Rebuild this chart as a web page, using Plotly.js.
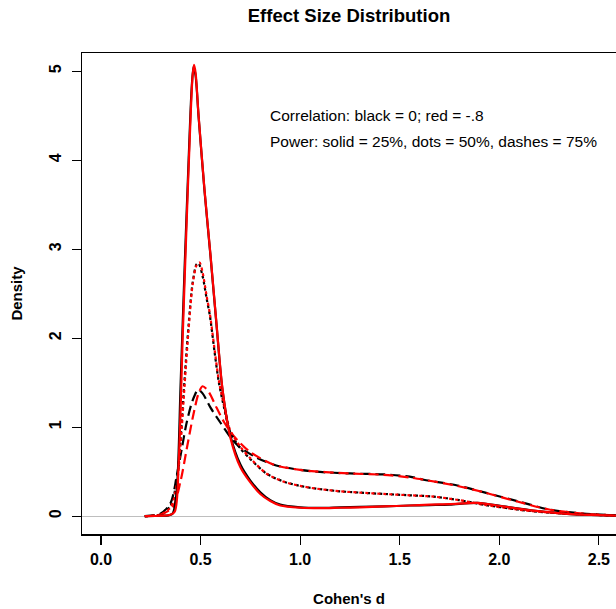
<!DOCTYPE html>
<html>
<head>
<meta charset="utf-8">
<script src="https://cdn.plot.ly/plotly-3.0.1.min.js"></script>
<style>html,body{margin:0;padding:0;overflow:hidden;background:#fff}</style>
</head>
<body>
<div id="chart" style="width:616px;height:609px"></div>
<script>
// Solid = power 25%
const solidBlackX = [0.22,0.30,0.34,0.36,0.38,0.40,0.42,0.44,0.455,0.465,0.475,0.49,0.52,0.55,0.58,0.61,0.65,0.70,0.75,0.80,0.85,0.90,1.00,1.10,1.20,1.30,1.42,1.55,1.65,1.75,1.89,2.02,2.17,2.34,2.46,2.60];
const solidBlackY = [0.00,0.005,0.01,0.03,0.28,1.50,2.80,4.00,4.80,5.05,4.95,4.49,3.65,2.92,2.15,1.42,0.90,0.58,0.40,0.27,0.18,0.13,0.10,0.094,0.10,0.105,0.11,0.12,0.125,0.13,0.15,0.11,0.064,0.027,0.015,0.005];
const solidRedX = [0.22,0.30,0.34,0.37,0.39,0.41,0.43,0.45,0.46,0.467,0.475,0.49,0.52,0.55,0.58,0.61,0.65,0.70,0.75,0.80,0.85,0.90,1.00,1.10,1.20,1.30,1.42,1.55,1.65,1.75,1.89,2.02,2.17,2.34,2.46,2.60];
const solidRedY = [0.00,0.005,0.01,0.05,0.60,2.00,3.30,4.50,4.95,5.07,4.98,4.50,3.66,2.93,2.16,1.43,0.88,0.55,0.38,0.25,0.17,0.12,0.095,0.09,0.095,0.10,0.11,0.12,0.13,0.135,0.15,0.11,0.062,0.026,0.014,0.005];
// Dotted = power 50%
const dotBlackX = [0.22,0.30,0.35,0.38,0.40,0.42,0.44,0.46,0.48,0.49,0.51,0.53,0.547,0.57,0.592,0.62,0.648,0.70,0.75,0.83,0.915,1.00,1.08,1.20,1.30,1.42,1.55,1.67,1.80,1.92,2.09,2.25,2.42,2.60];
const dotBlackY = [0.00,0.02,0.12,0.40,0.88,1.55,2.15,2.62,2.83,2.84,2.70,2.45,2.25,1.85,1.50,1.20,0.95,0.76,0.64,0.48,0.39,0.34,0.31,0.28,0.265,0.25,0.235,0.22,0.18,0.13,0.075,0.04,0.02,0.005];
const dotRedX = [0.22,0.30,0.35,0.38,0.40,0.42,0.44,0.46,0.48,0.495,0.51,0.53,0.547,0.57,0.592,0.62,0.648,0.70,0.75,0.83,0.915,1.00,1.08,1.20,1.30,1.42,1.55,1.67,1.80,1.92,2.09,2.25,2.42,2.60];
const dotRedY = [0.00,0.02,0.10,0.35,0.82,1.48,2.10,2.60,2.82,2.85,2.74,2.48,2.27,1.88,1.52,1.22,0.97,0.78,0.65,0.48,0.39,0.34,0.31,0.28,0.265,0.25,0.235,0.22,0.18,0.13,0.075,0.04,0.02,0.005];
// Dashed = power 75%
const dashBlackX = [0.22,0.30,0.35,0.38,0.405,0.43,0.46,0.488,0.51,0.55,0.60,0.656,0.70,0.78,0.88,1.00,1.08,1.25,1.42,1.55,1.62,1.79,1.92,2.09,2.25,2.42,2.60];
const dashBlackY = [0.00,0.03,0.15,0.45,0.75,1.05,1.30,1.42,1.38,1.22,1.05,0.87,0.77,0.66,0.57,0.52,0.50,0.48,0.47,0.445,0.41,0.345,0.27,0.17,0.075,0.03,0.008];
const dashRedX = [0.22,0.30,0.36,0.40,0.43,0.46,0.49,0.51,0.54,0.58,0.62,0.66,0.70,0.75,0.865,1.00,1.25,1.42,1.55,1.62,1.79,1.92,2.09,2.25,2.42,2.60];
const dashRedY = [0.00,0.02,0.10,0.40,0.75,1.10,1.38,1.46,1.40,1.22,1.05,0.92,0.82,0.72,0.58,0.52,0.48,0.465,0.435,0.41,0.34,0.27,0.165,0.075,0.03,0.008];

const titleText = "Effect Size Distribution";
const xTitle = "Cohen's d";
const yTitle = "Density";
const note1 = "Correlation: black = 0; red = -.8";
const note2 = "Power: solid = 25%, dots = 50%, dashes = 75%";
const xTicks = [0, 0.5, 1, 1.5, 2, 2.5];
const xTickText = ["0.0","0.5","1.0","1.5","2.0","2.5"];
const yTicks = [0,1,2,3,4,5];

function tr(x, y, color, dash, name) {
  return {x: x, y: y, type: 'scatter', mode: 'lines', name: name,
    line: {color: color, width: 2.2, dash: dash, shape: 'spline', smoothing: 0.8},
    hoverinfo: 'skip'};
}

const data = [
  tr(dashBlackX, dashBlackY, '#000000', '10px,5px', 'r=0, 75%'),
  tr(dashRedX, dashRedY, '#ff0000', '10px,5px', 'r=-.8, 75%'),
  tr(dotBlackX, dotBlackY, '#000000', '3px,3px', 'r=0, 50%'),
  tr(dotRedX, dotRedY, '#ff0000', '3px,3px', 'r=-.8, 50%'),
  tr(solidBlackX, solidBlackY, '#000000', 'solid', 'r=0, 25%'),
  tr(solidRedX, solidRedY, '#ff0000', 'solid', 'r=-.8, 25%')
];

const fontFam = 'Liberation Sans, Arial, Helvetica, sans-serif';
const layout = {
  width: 616, height: 609,
  margin: {l: 82, r: 0, t: 53, b: 75},
  paper_bgcolor: '#ffffff', plot_bgcolor: '#ffffff',
  showlegend: false,
  font: {family: fontFam, color: '#000'},
  title: {text: '<b>' + titleText + '</b>', font: {size: 18.5, family: fontFam, color: '#000'},
          x: 0.5, xref: 'paper', xanchor: 'center', y: 0.974, yref: 'container', yanchor: 'middle'},
  xaxis: {
    range: [-0.0954, 2.586], tickvals: xTicks, ticktext: xTickText,
    ticks: 'outside', ticklen: 9, tickwidth: 1.2, tickcolor: '#000',
    showline: true, linecolor: '#000', linewidth: 1.5, mirror: true,
    showgrid: false, zeroline: false,
    tickfont: {size: 16, family: fontFam, color: '#000', weight: 'bold'},
    ticklabelstandoff: 1,
    title: {text: xTitle, font: {size: 15, family: fontFam, color: '#000', weight: 'bold'}, standoff: 27}
  },
  yaxis: {
    range: [-0.2, 5.204], tickvals: yTicks,
    ticks: 'outside', ticklen: 9, tickwidth: 1.2, tickcolor: '#000',
    showline: true, linecolor: '#000', linewidth: 1.5, mirror: false,
    showgrid: false, zeroline: true, zerolinecolor: '#bebebe', zerolinewidth: 1,
    tickangle: -90,
    tickfont: {size: 16, family: fontFam, color: '#000', weight: 'bold'},
    ticklabelstandoff: 4,
    title: {text: yTitle, font: {size: 15, family: fontFam, color: '#000', weight: 'bold'}, standoff: 21}
  },
  annotations: [
    {text: note1, xref: 'paper', yref: 'paper', x: 0.348, y: 0.871, xanchor: 'left', yanchor: 'middle',
     showarrow: false, font: {size: 15.5, family: fontFam, color: '#000'}},
    {text: note2, xref: 'paper', yref: 'paper', x: 0.348, y: 0.8156, xanchor: 'left', yanchor: 'middle',
     showarrow: false, font: {size: 15.5, family: fontFam, color: '#000'}}
  ]
};

Plotly.newPlot('chart', data, layout, {displayModeBar: false, staticPlot: true});
</script>
</body>
</html>
